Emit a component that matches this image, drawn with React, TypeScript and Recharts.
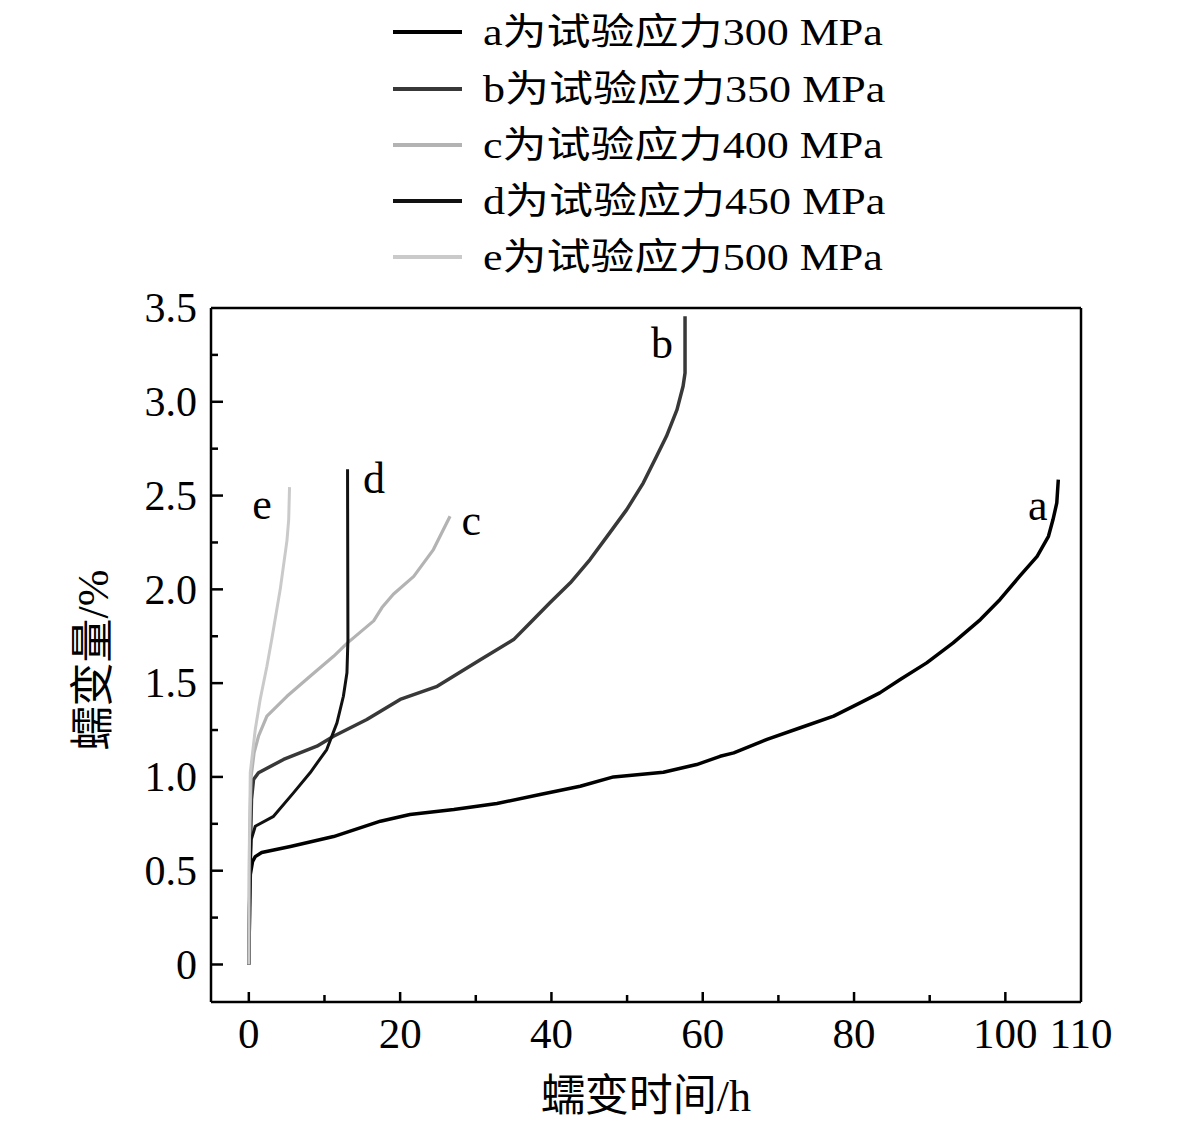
import React from 'react';
import { LineChart, Line, XAxis, YAxis, ReferenceDot, ReferenceLine } from 'recharts';

const W = 1181;
const H = 1134;
const FONT = '"Liberation Serif", "Times New Roman", "Noto Sans CJK SC", serif';

// series meta
const seriesKeys = ['a', 'b', 'c', 'd', 'e'];
const seriesLabels = [
  'a为试验应力300 MPa',
  'b为试验应力350 MPa',
  'c为试验应力400 MPa',
  'd为试验应力450 MPa',
  'e为试验应力500 MPa',
];
const seriesColors = ['#000000', '#383838', '#b3b3b3', '#111111', '#cacaca'];
const seriesWidths = [3.5, 3.5, 3.2, 3, 3];

// curve a (300 MPa)
const timeA = [0, 0.1, 0.2, 0.5, 0.85, 1.7, 5.5, 11.2, 17.4, 21.3, 27.1, 32.8, 38.5, 43.8, 48.2, 54.8, 59.2, 62.3, 64.1, 68.5, 72.9, 77.3, 80.8, 83.4, 86.1, 89.6, 93.1, 96.7, 99.3, 101.9, 104.2, 105.7, 106.3, 106.8, 107.0];
const strainA = [0, 0.3, 0.48, 0.55, 0.575, 0.597, 0.629, 0.682, 0.764, 0.8, 0.826, 0.858, 0.906, 0.95, 1.0, 1.025, 1.066, 1.11, 1.128, 1.2, 1.262, 1.324, 1.395, 1.448, 1.519, 1.608, 1.715, 1.839, 1.946, 2.07, 2.176, 2.283, 2.372, 2.461, 2.585];

// curve b (350 MPa)
const timeB = [0, 0.2, 0.35, 0.62, 1.28, 4.59, 9.0, 11.2, 15.6, 20.0, 24.9, 30.6, 35.0, 37.17, 39.8, 42.5, 45.1, 47.7, 49.95, 52.15, 53.9, 55.2, 56.6, 57.4, 57.66, 57.66];
const strainB = [0, 0.6, 0.88, 0.986, 1.022, 1.093, 1.164, 1.217, 1.306, 1.413, 1.483, 1.625, 1.732, 1.821, 1.928, 2.035, 2.159, 2.301, 2.425, 2.568, 2.71, 2.816, 2.958, 3.083, 3.154, 3.456];

// curve c (400 MPa)
const timeC = [0, 0.1, 0.3, 0.7, 1.28, 2.39, 5.04, 8.1, 11.2, 12.97, 16.5, 17.6, 19.1, 21.8, 24.4, 26.6];
const strainC = [0, 0.7, 1.0, 1.13, 1.217, 1.324, 1.43, 1.537, 1.643, 1.712, 1.832, 1.903, 1.974, 2.069, 2.212, 2.39];

// curve d (450 MPa)
const timeD = [0, 0.1, 0.32, 0.85, 3.27, 5.9, 8.1, 10.3, 11.65, 12.5, 12.97, 13.1, 13.05];
const strainD = [0, 0.4, 0.666, 0.737, 0.79, 0.915, 1.022, 1.146, 1.288, 1.43, 1.555, 1.732, 2.64];

// curve e (500 MPa)
const timeE = [0, 0.05, 0.19, 0.85, 1.5, 2.39, 3.05, 4.15, 5.04, 5.27, 5.38];
const strainE = [0, 0.5, 1.022, 1.253, 1.413, 1.59, 1.738, 2.0, 2.26, 2.372, 2.545];

// curve annotation letters (data coords of label baseline centre)
const curveLabelX = [104.3, 54.6, 29.4, 16.55, 1.75];
const curveLabelY = [2.372, 3.236, 2.292, 2.516, 2.374];

// axes
const xDomain = [-5, 110];
const yDomain = [-0.2, 3.5];
const xTicks = [0, 10, 20, 30, 40, 50, 60, 70, 80, 90, 100, 110];
const xTickLabels = [0, 20, 40, 60, 80, 100, 110];
const yTicks = [0, 0.25, 0.5, 0.75, 1, 1.25, 1.5, 1.75, 2, 2.25, 2.5, 2.75, 3, 3.25, 3.5];
const yTickLabels = [0, 0.5, 1, 1.5, 2, 2.5, 3, 3.5];
const xTitle = '蠕变时间/h';
const yTitle = '蠕变量/%';

const times = [timeA, timeB, timeC, timeD, timeE];
const strains = [strainA, strainB, strainC, strainD, strainE];

const series = seriesKeys.map((k, i) => ({
  key: k,
  name: seriesLabels[i],
  color: seriesColors[i],
  width: seriesWidths[i],
  data: times[i].map((t, j) => ({ x: t, y: strains[i][j] })),
}));

const XTick = (props: any) => {
  const { x, y, payload } = props;
  const v = payload.value;
  const labeled = xTickLabels.includes(v);
  const len = labeled ? 10 : 7;
  return (
    <g>
      {v < 110 && (
        <line x1={x} x2={x} y1={y} y2={y - len} stroke="#000" strokeWidth={2.5} />
      )}
      {labeled && (
        <text x={x} y={y + 46} textAnchor="middle" fontSize={43} fontFamily={FONT} fill="#000">
          {v}
        </text>
      )}
    </g>
  );
};

const YTick = (props: any) => {
  const { x, y, payload } = props;
  const v = payload.value;
  const labeled = yTickLabels.some((l) => Math.abs(l - v) < 1e-9);
  const len = labeled ? 12 : 7;
  return (
    <g>
      {v < 3.5 && (
        <line x1={x} x2={x + len} y1={y} y2={y} stroke="#000" strokeWidth={2.5} />
      )}
      {labeled && (
        <text x={x - 14} y={y} dy="0.34em" textAnchor="end" fontSize={42} fontFamily={FONT} fill="#000">
          {v === 0 ? '0' : v.toFixed(1)}
        </text>
      )}
    </g>
  );
};

const legendRowY = [32, 89, 145, 201, 257];

export default function App() {
  return (
    <div style={{ position: 'relative', width: W, height: H, background: '#fff' }}>
      <style>{`body{margin:0;background:#fff}`}</style>
      <LineChart
        width={W}
        height={H}
        margin={{ top: 308, right: 100, bottom: 72, left: 61 }}
      >
        <XAxis
          dataKey="x"
          type="number"
          domain={xDomain}
          allowDataOverflow
          ticks={xTicks}
          interval={0}
          tickLine={false}
          tickSize={0}
          tickMargin={0}
          tick={<XTick />}
          axisLine={{ stroke: '#000', strokeWidth: 2.5 }}
          height={60}
        />
        <YAxis
          type="number"
          domain={yDomain}
          allowDataOverflow
          ticks={yTicks}
          interval={0}
          tickLine={false}
          tickSize={0}
          tickMargin={0}
          tick={<YTick />}
          axisLine={{ stroke: '#000', strokeWidth: 2.5 }}
          width={150}
        />
        <ReferenceLine y={yDomain[1]} stroke="#000" strokeWidth={2.5} />
        <ReferenceLine x={xDomain[1]} stroke="#000" strokeWidth={2.5} />
        {series.map((s) => (
          <Line
            key={s.key}
            data={s.data}
            dataKey="y"
            name={s.name}
            type="linear"
            stroke={s.color}
            strokeWidth={s.width}
            dot={false}
            activeDot={false}
            isAnimationActive={false}
            strokeLinejoin="round"
          />
        ))}
        {seriesKeys.map((k, i) => (
          <ReferenceDot
            key={'lbl' + k}
            x={curveLabelX[i]}
            y={curveLabelY[i]}
            r={0}
            ifOverflow="visible"
            shape={(p: any) => (
              <text x={p.cx} y={p.cy} textAnchor="middle" fontSize={44} fontFamily={FONT} fill="#000">
                {k}
              </text>
            )}
          />
        ))}
      </LineChart>
      <svg
        width={W}
        height={H}
        style={{ position: 'absolute', left: 0, top: 0, pointerEvents: 'none' }}
      >
        {series.map((s, i) => (
          <g key={'leg' + s.key}>
            <line x1={393} x2={462} y1={legendRowY[i]} y2={legendRowY[i]} stroke={s.color} strokeWidth={4} />
            <text
              transform={`translate(483, ${legendRowY[i] + 13}) scale(1.19, 1)`}
              fontSize={37}
              fontFamily={FONT}
              fill="#000"
            >
              {s.name}
            </text>
          </g>
        ))}
        <text x={646} y={1111} textAnchor="middle" fontSize={44} fontFamily={FONT} fill="#000">
          {xTitle}
        </text>
        <text
          transform="translate(93, 660) rotate(-90)"
          textAnchor="middle"
          dominantBaseline="central"
          fontSize={44}
          fontFamily={FONT}
          fill="#000"
        >
          {yTitle}
        </text>
      </svg>
    </div>
  );
}
